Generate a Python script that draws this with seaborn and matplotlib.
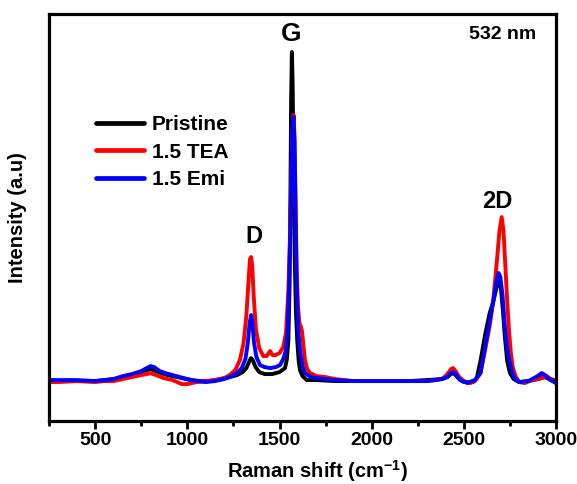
import matplotlib
matplotlib.use("Agg")
import matplotlib.pyplot as plt
import seaborn as sns
import pandas as pd

# ---- data (intensity in arbitrary units) ----
series_names = ["Pristine", "1.5 TEA", "1.5 Emi"]
series_colors = ["#000000", "#FF0000", "#0000FF"]

pristine_x = [250, 300, 400, 500, 550, 600, 650, 700, 750, 780, 800, 830, 870, 920, 970,
              1020, 1070, 1120, 1180, 1230, 1270, 1300, 1320, 1335, 1345, 1355, 1370, 1390,
              1420, 1460, 1500, 1530, 1540, 1548, 1554, 1559, 1563, 1567, 1571, 1576, 1582,
              1589, 1596, 1604, 1611, 1625, 1648, 1700, 1800, 1900, 2000, 2100, 2200, 2300,
              2380, 2410, 2430, 2445, 2460, 2480, 2520, 2550, 2570, 2590, 2615, 2640, 2660,
              2678, 2693, 2700, 2712, 2722, 2735, 2750, 2770, 2800, 2850, 2900, 2930, 2960, 3000]
pristine_y = [1, 0, 0, 0, 1, 2, 4, 6, 9, 11, 12, 10, 7, 5, 3,
              1, 0, 0, 2, 4, 6, 9, 13, 19, 23, 21, 14, 9,
              7, 7, 9, 13, 22, 41, 90, 180, 280, 329, 300, 220, 130,
              70, 41, 20, 11, 5, 1, 1, 0, 0, 0, 0, 0, 1,
              2, 4, 7, 8, 5, 1, -2, -1, 3, 20, 46, 68, 80,
              94, 99, 95, 70, 45, 20, 8, 2, -1, 0, 2, 4, 3, 0]

tea_x = [250, 300, 400, 500, 550, 600, 650, 700, 750, 780, 800, 830, 870, 920, 970, 1000,
         1050, 1100, 1150, 1200, 1230, 1260, 1285, 1305, 1320, 1332, 1340, 1346, 1352, 1360,
         1372, 1390, 1412, 1430, 1449, 1462, 1478, 1500, 1520, 1535, 1548, 1556, 1562, 1568,
         1573, 1577, 1582, 1588, 1593, 1600, 1608, 1615, 1622, 1630, 1638, 1650, 1666, 1700,
         1750, 1800, 1850, 1900, 2000, 2100, 2200, 2300, 2350, 2390, 2415, 2430, 2442, 2455,
         2475, 2500, 2530, 2560, 2590, 2615, 2640, 2660, 2680, 2693, 2705, 2715, 2725, 2735,
         2745, 2755, 2765, 2780, 2800, 2830, 2870, 2900, 2925, 2950, 2970, 3000]
tea_y = [-1, -1, 0, -1, 0, 0, 2, 4, 6, 7, 8, 6, 3, 1, -3, -3,
         -1, 0, 1, 3, 6, 11, 21, 38, 65, 100, 122, 124, 115, 85,
         52, 33, 25, 25, 30, 26, 26, 28, 34, 48, 90, 140, 190, 235,
         262, 266, 240, 170, 110, 75, 58, 55, 50, 35, 21, 12, 8, 5,
         4, 2, 1, 0, 0, 0, 0, 0, 1, 3, 8, 12, 13, 10,
         4, 0, -2, 0, 8, 31, 55, 82, 122, 150, 164, 150, 115, 80,
         50, 28, 14, 5, -1, -2, 1, 2, 3, 5, 2, -2]

emi_x = [250, 300, 400, 500, 550, 600, 650, 700, 750, 780, 800, 820, 850, 880, 920, 960,
         1000, 1050, 1100, 1150, 1200, 1240, 1270, 1295, 1315, 1328, 1338, 1346, 1353, 1362,
         1375, 1394, 1420, 1449, 1480, 1503, 1520, 1535, 1545, 1553, 1560, 1566, 1571, 1576,
         1581, 1587, 1593, 1600, 1611, 1625, 1638, 1670, 1700, 1750, 1800, 1900, 2000, 2100,
         2200, 2300, 2380, 2410, 2430, 2440, 2455, 2475, 2500, 2530, 2560, 2590, 2615, 2640,
         2660, 2675, 2688, 2698, 2710, 2722, 2735, 2750, 2765, 2780, 2800, 2850, 2880, 2900,
         2922, 2940, 2960, 3000]
emi_y = [1, 1, 1, 0, 1, 2, 5, 7, 10, 13, 15, 14, 10, 8, 6, 4,
         2, 0, -1, 0, 2, 5, 8, 13, 22, 38, 58, 66, 58, 38,
         24, 16, 14, 13, 14, 16, 22, 31, 55, 100, 160, 220, 255, 264,
         240, 170, 100, 55, 31, 15, 8, 4, 3, 2, 1, 0, 0, 0,
         0, 0, 2, 4, 8, 9, 7, 2, -1, -1, 1, 8, 34, 60,
         80, 98, 108, 104, 85, 55, 32, 18, 7, 2, -1, 0, 3, 5,
         8, 6, 2, -2]

x_ticks = [500, 1000, 1500, 2000, 2500, 3000]
x_minor_ticks = [250, 750, 1250, 1750, 2250, 2750]

# ---- build long-form table ----
frames = []
for name, xs, ys in zip(series_names,
                        [pristine_x, tea_x, emi_x],
                        [pristine_y, tea_y, emi_y]):
    frames.append(pd.DataFrame({"shift": xs, "intensity": ys, "sample": name}))
df = pd.concat(frames, ignore_index=True)

sns.set_style("white")
plt.rcParams["font.family"] = ["Liberation Sans", "DejaVu Sans"]
plt.rcParams["font.weight"] = "bold"
plt.rcParams["axes.labelweight"] = "bold"
plt.rcParams["text.color"] = "black"
plt.rcParams["axes.labelcolor"] = "black"
plt.rcParams["xtick.color"] = "black"
plt.rcParams["ytick.color"] = "black"
plt.rcParams["mathtext.fontset"] = "custom"
plt.rcParams["mathtext.rm"] = "Liberation Sans:bold"
plt.rcParams["mathtext.default"] = "rm"

fig = plt.figure(figsize=(5.77, 4.84), dpi=100)
ax = fig.add_axes([0.085, 0.130, 0.8787, 0.841])

sns.lineplot(data=df, x="shift", y="intensity", hue="sample",
             hue_order=series_names, palette=dict(zip(series_names, series_colors)),
             linewidth=2.8, ax=ax, sort=False, estimator=None)

ax.set_xlim(250, 3000)
ax.set_ylim(-40, 367)
ax.set_xticks(x_ticks)
ax.set_xticks(x_minor_ticks, minor=True)
ax.set_yticks([])
ax.tick_params(axis="x", which="major", direction="out", length=5.5, width=2.0,
               labelsize=14, pad=2.5, bottom=True, colors="black")
ax.tick_params(axis="x", which="minor", direction="out", length=3.5, width=2.0,
               bottom=True, colors="black")
for lab in ax.get_xticklabels():
    lab.set_fontweight("bold")
for sp in ax.spines.values():
    sp.set_linewidth(2.3)
    sp.set_color("black")

ax.set_xlabel("Raman shift (cm$^{-1}$)", fontsize=14.5, fontweight="bold", color="black")
ax.xaxis.set_label_coords(0.53, -0.09)
ax.set_ylabel("Intensity (a.u)", fontsize=14.5, fontweight="bold", color="black")
ax.yaxis.set_label_coords(-0.043, 0.5)

ax.text(1563, 347, "G", fontsize=19, fontweight="bold", ha="center", va="center", color="black")
ax.text(1362, 145, "D", fontsize=17, fontweight="bold", ha="center", va="center", color="black")
ax.text(2680, 180, "2D", fontsize=17, fontweight="bold", ha="center", va="center", color="black")
ax.text(2712, 347, "532 nm", fontsize=14, fontweight="bold", ha="center", va="center", color="black")

leg = ax.legend(loc="upper left", bbox_to_anchor=(0.092, 0.752), frameon=False,
                fontsize=15, handlelength=2.3, handletextpad=0.4,
                labelspacing=0.42, borderpad=0, borderaxespad=0)
for line in leg.get_lines():
    line.set_linewidth(3.4)
for t in leg.get_texts():
    t.set_fontweight("bold")
    t.set_color("black")

fig.savefig("out.png", dpi=100)
